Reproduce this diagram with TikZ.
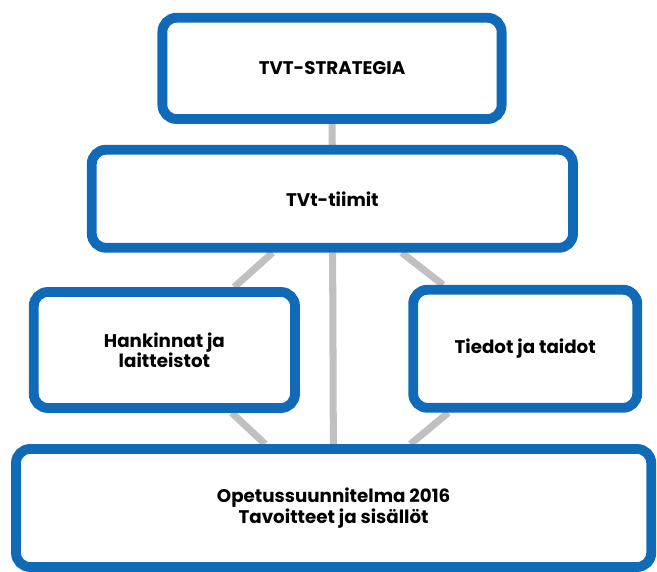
\documentclass[tikz,border=0pt]{standalone}
\usepackage{fontspec}
\setmainfont{Poppins}
\usepackage{xcolor}
\definecolor{tvtblue}{RGB}{16,106,184}
\definecolor{tvtgray}{RGB}{192,192,194}
\usetikzlibrary{backgrounds}

\begin{document}
\begin{tikzpicture}[
  tvtbox/.style={
    rectangle, rounded corners=10pt,
    draw=tvtblue, line width=7pt,
    fill=white, inner sep=0pt,
    font=\fontsize{13}{14.4}\selectfont\bfseries,
    align=center,
    text=black
  },
  link/.style={draw=tvtgray, line width=5pt}
]
\useasboundingbox (0,0) rectangle (16.425,14.3);

\node[tvtbox, minimum width=8.48cm,  minimum height=2.53cm] (strat)  at (8.30,12.59) {TVT-STRATEGIA};
\node[tvtbox, minimum width=12.03cm, minimum height=2.45cm] (tiimit) at (8.31,9.33)  {TVt-tiimit};
\node[tvtbox, minimum width=6.53cm,  minimum height=2.90cm] (hank)   at (4.11,5.55)  {Hankinnat ja\\laitteistot};
\node[tvtbox, minimum width=5.60cm,  minimum height=2.95cm] (tiedot) at (13.13,5.58) {Tiedot ja taidot};
\node[tvtbox, minimum width=15.88cm, minimum height=2.95cm] (ops)    at (8.34,1.60)  {Opetussuunnitelma 2016\\Tavoitteet ja sisällöt};

\begin{scope}[on background layer]
\draw[link] (strat) -- (tiimit);
\draw[link] (tiimit) -- (hank);
\draw[link] (tiimit) -- (tiedot);
\draw[link] (tiimit) -- (ops);
\draw[link] (hank) -- (ops);
\draw[link] (tiedot) -- (ops);
\end{scope}
\end{tikzpicture}
\end{document}
